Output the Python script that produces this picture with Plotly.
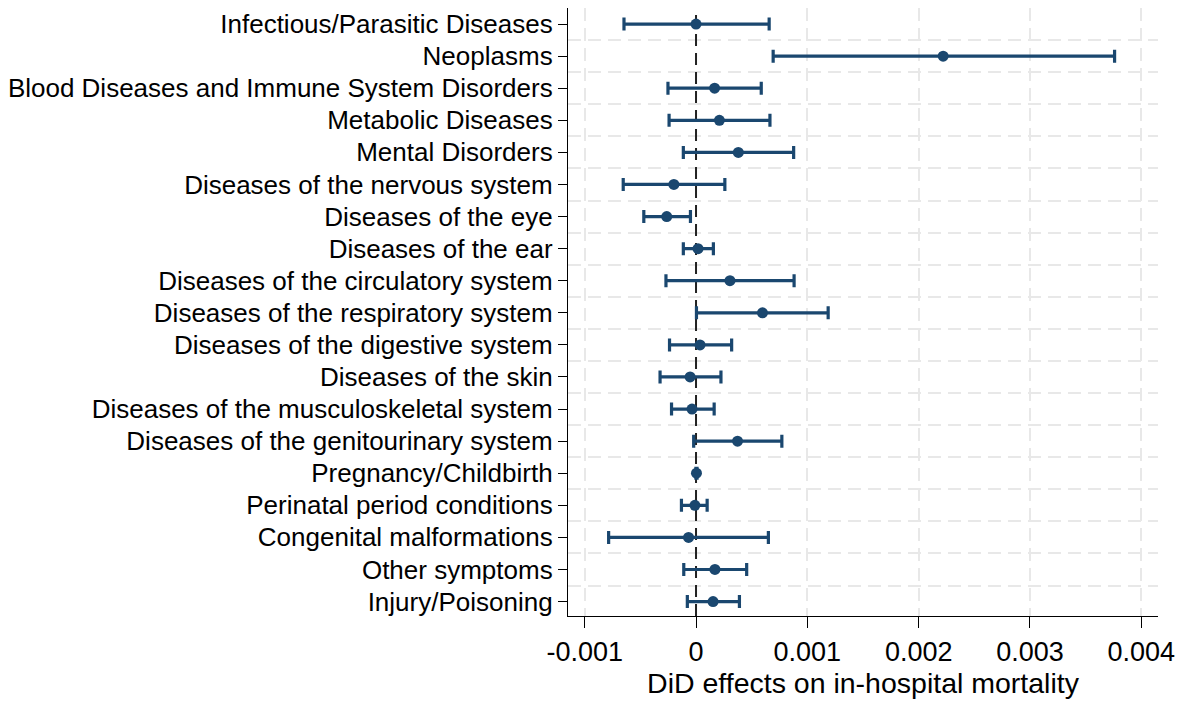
import plotly.graph_objects as go

categories = [
    "Infectious/Parasitic Diseases",
    "Neoplasms",
    "Blood Diseases and Immune System Disorders",
    "Metabolic Diseases",
    "Mental Disorders",
    "Diseases of the nervous system",
    "Diseases of the eye",
    "Diseases of the ear",
    "Diseases of the circulatory system",
    "Diseases of the respiratory system",
    "Diseases of the digestive system",
    "Diseases of the skin",
    "Diseases of the musculoskeletal system",
    "Diseases of the genitourinary system",
    "Pregnancy/Childbirth",
    "Perinatal period conditions",
    "Congenital malformations",
    "Other symptoms",
    "Injury/Poisoning",
]
estimate = [0.0, 0.00222, 0.000167, 0.00021, 0.00038, -0.000199, -0.000263, 0.000018,
            0.000305, 0.000597, 0.000036, -0.000053, -0.000036, 0.000373, 0.000004,
            -0.00001, -0.000067, 0.00017, 0.000153]
ci_low = [-0.000647, 0.000693, -0.000252, -0.000242, -0.000114, -0.000654, -0.000469, -0.000114,
          -0.00027, 0.000004, -0.000238, -0.000323, -0.00022, -0.000021, -0.000001,
          -0.000131, -0.000785, -0.00011, -0.000078]
ci_high = [0.000657, 0.00376, 0.000586, 0.000664, 0.000877, 0.000259, -0.00005, 0.000156,
           0.000881, 0.001187, 0.00032, 0.000224, 0.000163, 0.000771, 0.000009,
           0.0001, 0.00065, 0.000455, 0.00039]
x_ticks = [-0.001, 0, 0.001, 0.002, 0.003, 0.004]
x_ticklabels = ["-0.001", "0", "0.001", "0.002", "0.003", "0.004"]
x_title = "DiD effects on in-hospital mortality"
reference_x = 0

navy = "#1a476f"
grid = "#e8e8e8"
font_family = "Liberation Sans, Arial, sans-serif"

n = len(categories)
ypos = list(range(n))
y_range = [n - 1 + 0.45, -0.5]
err_plus = [h - e for h, e in zip(ci_high, estimate)]
err_minus = [e - l for e, l in zip(estimate, ci_low)]

fig = go.Figure()
# reference line at zero, spanning the full y range (drawn above gridlines, below markers)
fig.add_trace(go.Scatter(
    x=[reference_x, reference_x], y=y_range, mode="lines",
    line=dict(color="#222222", width=2, dash="12px,7px"),
    showlegend=False, hoverinfo="skip", cliponaxis=True,
))
fig.add_trace(go.Scatter(
    x=estimate, y=ypos, mode="markers",
    marker=dict(color=navy, size=11),
    error_x=dict(type="data", symmetric=False, array=err_plus, arrayminus=err_minus,
                 color=navy, thickness=3.2, width=6.5),
    showlegend=False, hoverinfo="skip",
))

fig.update_layout(
    width=1183, height=696,
    margin=dict(l=560, r=33, t=0, b=88),
    paper_bgcolor="white", plot_bgcolor="white",
    font=dict(family=font_family, color="black"),
)
fig.update_xaxes(
    range=[-0.00115, 0.00415],
    tickvals=x_ticks, ticktext=x_ticklabels,
    automargin=False,
    showgrid=False,
    minor=dict(tickvals=[t for t in x_ticks if t != reference_x], showgrid=True,
               gridcolor=grid, gridwidth=2, griddash="13px,7px", ticks=""),
    zeroline=False,
    showline=True, linecolor="black", linewidth=1.3,
    ticks="outside", ticklen=11, tickcolor="black", tickwidth=1.3,
    tickfont=dict(size=27, family=font_family, color="black"),
    title=dict(text=x_title, font=dict(size=28.5, family=font_family, color="black"), standoff=6),
)
fig.update_yaxes(
    range=y_range,
    tickvals=ypos, ticktext=categories,
    automargin=False,
    showgrid=False, zeroline=False,
    minor=dict(tickvals=[i + 0.5 for i in range(n - 1)], showgrid=True,
               gridcolor=grid, gridwidth=2, griddash="13px,7px", ticks=""),
    showline=True, linecolor="black", linewidth=1.3,
    ticks="outside", ticklen=9, tickcolor="black", tickwidth=1.3,
    ticklabelstandoff=0,
    tickfont=dict(size=26, family=font_family, color="black"),
)

fig.write_html("out.html")
